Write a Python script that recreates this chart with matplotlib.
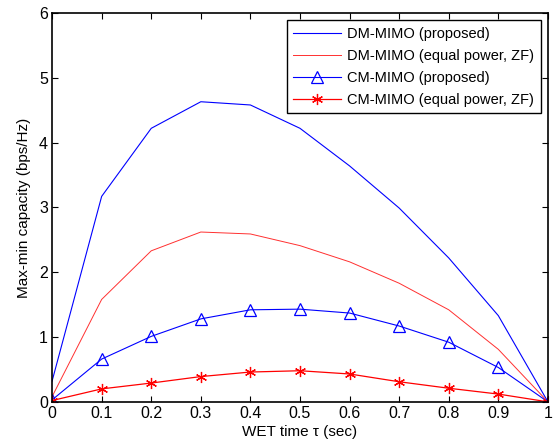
import matplotlib
matplotlib.use("Agg")
import matplotlib.pyplot as plt

plt.rcParams["font.family"] = ["Liberation Sans", "DejaVu Sans"]

# WET time tau (sec)
tau = [0, 0.1, 0.2, 0.3, 0.4, 0.5, 0.6, 0.7, 0.8, 0.9, 1.0]

# max-min capacity (bps/Hz)
dm_proposed = [0.32, 3.17, 4.22, 4.63, 4.58, 4.22, 3.64, 2.99, 2.22, 1.33, 0.0]
dm_equal = [0.08, 1.58, 2.33, 2.62, 2.59, 2.41, 2.16, 1.83, 1.42, 0.81, 0.0]
cm_proposed = [0.03, 0.66, 1.01, 1.28, 1.42, 1.43, 1.37, 1.17, 0.92, 0.53, 0.0]
cm_equal = [0.02, 0.20, 0.29, 0.39, 0.46, 0.48, 0.43, 0.31, 0.21, 0.12, 0.0]

labels = ["DM-MIMO (proposed)", "DM-MIMO (equal power, ZF)",
          "CM-MIMO (proposed)", "CM-MIMO (equal power, ZF)"]

fig = plt.figure(figsize=(5.54, 4.46), dpi=100)
ax = fig.add_axes([0.094, 0.099, 0.895, 0.872])

ax.plot(tau, dm_proposed, color="b", lw=0.8, label=labels[0])
ax.plot(tau, dm_equal, color="#ff3030", lw=0.7, label=labels[1])
ax.plot(tau, cm_proposed, color="b", lw=0.8, marker="^", ms=8,
        mfc="none", mec="b", mew=0.9, label=labels[2])
ax.plot(tau, cm_equal, color="r", lw=0.9, marker=(6, 2, 0), ms=8,
        mec="r", mew=0.9, label=labels[3])

ax.set_xlim(0, 1)
ax.set_ylim(0, 6)
ax.set_xticks(tau)
ax.set_xticklabels(["0", "0.1", "0.2", "0.3", "0.4", "0.5", "0.6",
                    "0.7", "0.8", "0.9", "1"])
ax.set_yticks([0, 1, 2, 3, 4, 5, 6])
ax.tick_params(direction="in", top=True, right=True, length=4,
               width=0.8, labelsize=11.5, pad=3)
for s in ax.spines.values():
    s.set_linewidth(1.2)

ax.set_xlabel("WET time τ (sec)", fontsize=11, labelpad=3)
ax.set_ylabel("Max-min capacity (bps/Hz)", fontsize=11, labelpad=6)

leg = ax.legend(loc="upper right", fontsize=10.5, fancybox=False,
                framealpha=1, edgecolor="black", borderpad=0.45,
                handlelength=3.3, handletextpad=0.4, labelspacing=0.55,
                borderaxespad=0.5)
leg.get_frame().set_linewidth(1.0)

fig.savefig("out.png", dpi=100)
